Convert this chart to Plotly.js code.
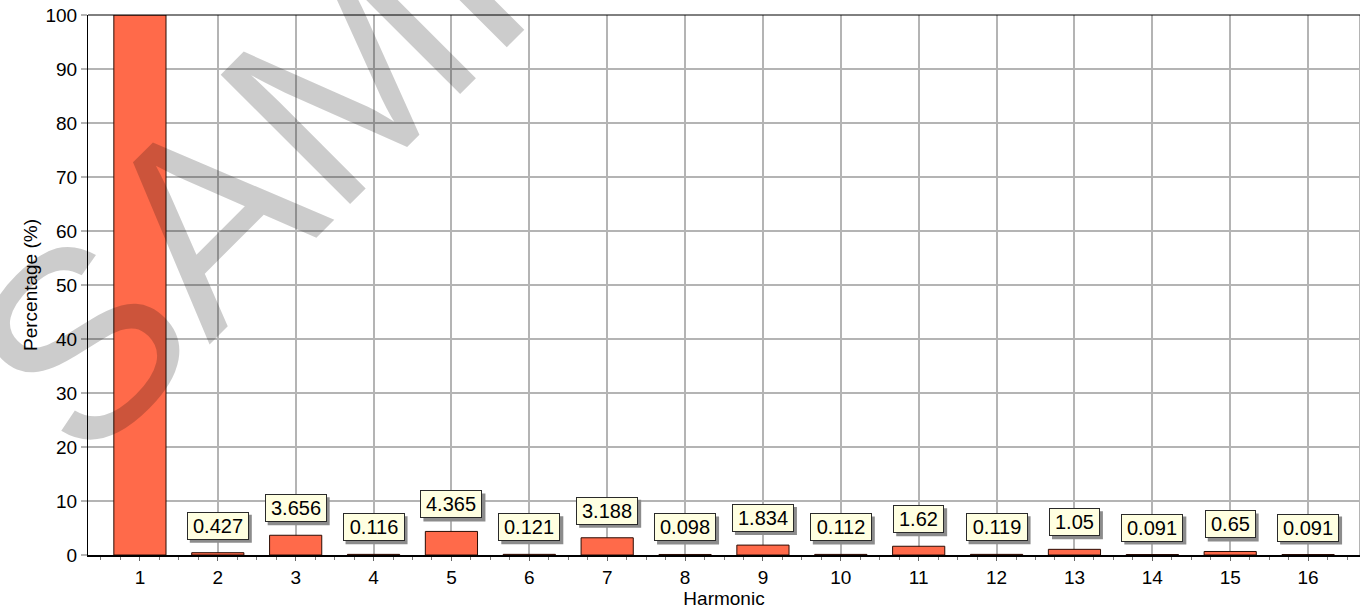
<!DOCTYPE html>
<html>
<head>
<meta charset="utf-8">
<script src="https://cdn.plot.ly/plotly-3.0.1.min.js"></script>
<style>html,body{margin:0;padding:0;background:#fff;}#chart{width:1360px;height:609px;}</style>
</head>
<body>
<div id="chart"></div>
<script>
const harmonics = [1, 2, 3, 4, 5, 6, 7, 8, 9, 10, 11, 12, 13, 14, 15, 16];
const percentages = [100, 0.427, 3.656, 0.116, 4.365, 0.121, 3.188, 0.098, 1.834, 0.112, 1.62, 0.119, 1.05, 0.091, 0.65, 0.091];
const valueLabels = ['100', '0.427', '3.656', '0.116', '4.365', '0.121', '3.188', '0.098', '1.834', '0.112', '1.62', '0.119', '1.05', '0.091', '0.65', '0.091'];
const yTicks = [0, 10, 20, 30, 40, 50, 60, 70, 80, 90, 100];
const xTitle = 'Harmonic';
const yTitle = 'Percentage (%)';
const watermark = 'SAMPLE';

const FONT = 'Liberation Sans, Arial, sans-serif';
const LABEL_GAP = 13, BOX_H = 24, SHADOW = 3;

function textWidth(s) {
  let w = 0;
  for (const ch of s) w += (ch === '.') ? 5.6 : 11.1;
  return w;
}

const annotations = [{
  text: watermark, xref: 'paper', yref: 'paper', x: 0.245, y: 0.985,
  xanchor: 'center', yanchor: 'middle', showarrow: false, textangle: -45,
  font: {family: FONT, size: 266, color: 'rgba(0,0,0,0.2)'}
}];
const shapes = [{
  type: 'line', xref: 'paper', yref: 'paper', x0: 1, x1: 1, y0: 0, y1: 1,
  line: {color: '#b4b4b4', width: 2}
}];

for (let i = 1; i < harmonics.length; i++) {
  const w = textWidth(valueLabels[i]) + 8;
  annotations.push({
    x: harmonics[i], y: percentages[i], xref: 'x', yref: 'y',
    text: valueLabels[i], showarrow: false, yanchor: 'bottom', yshift: LABEL_GAP,
    width: w, height: BOX_H, borderpad: 1,
    bgcolor: '#ffffe1', bordercolor: '#2a2a2a', borderwidth: 1,
    font: {family: FONT, size: 20, color: '#000'}
  });
  const W = w + 4, H = BOX_H + 4;
  shapes.push({
    type: 'rect', xref: 'x', yref: 'y', xsizemode: 'pixel', ysizemode: 'pixel',
    xanchor: harmonics[i], yanchor: percentages[i],
    x0: -W / 2 + SHADOW, x1: W / 2 + SHADOW,
    y0: LABEL_GAP - SHADOW, y1: LABEL_GAP + H - SHADOW,
    fillcolor: '#8c8c8c', line: {width: 0}, layer: 'above'
  });
}

const trace = {
  type: 'bar', x: harmonics, y: percentages, width: 0.67,
  marker: {color: '#ff6a4a', line: {color: '#2b0c04', width: 1}},
  hoverinfo: 'x+y'
};

const layout = {
  width: 1360, height: 609,
  margin: {l: 88, r: 0, t: 15, b: 54},
  paper_bgcolor: '#fff', plot_bgcolor: '#fff',
  font: {family: FONT, size: 19, color: '#000'},
  showlegend: false,
  xaxis: {
    type: 'linear', range: [1/3, 16 + 2/3], tickvals: harmonics, ticktext: harmonics.map(String),
    showgrid: true, gridcolor: '#b4b4b4', gridwidth: 2,
    ticks: 'outside', ticklen: 4, tickcolor: '#666', tickwidth: 1,
    minor: {dtick: 0.25, tick0: 0, ticks: 'outside', ticklen: 3, tickcolor: '#777', showgrid: false},
    showline: true, linecolor: '#000', linewidth: 2, zeroline: false,
    tickfont: {family: FONT, size: 19},
    title: {text: xTitle, font: {family: FONT, size: 19}, standoff: 4},
    fixedrange: true
  },
  yaxis: {
    range: [0, 100], tickvals: yTicks,
    showgrid: true, gridcolor: '#b4b4b4', gridwidth: 2,
    ticks: 'outside', ticklen: 6, tickcolor: '#b4b4b4', tickwidth: 2,
    showline: true, linecolor: '#000', linewidth: 1, zeroline: false,
    mirror: false,
    tickfont: {family: FONT, size: 19},
    title: {text: yTitle, font: {family: FONT, size: 19}, standoff: 2},
    fixedrange: true
  },
  shapes: shapes.concat([{
    type: 'line', xref: 'paper', yref: 'paper', x0: 0, x1: 1, y0: 1, y1: 1,
    line: {color: '#000', width: 1}
  }]),
  annotations: annotations
};

Plotly.newPlot('chart', [trace], layout, {displayModeBar: false, staticPlot: true});
</script>
</body>
</html>
